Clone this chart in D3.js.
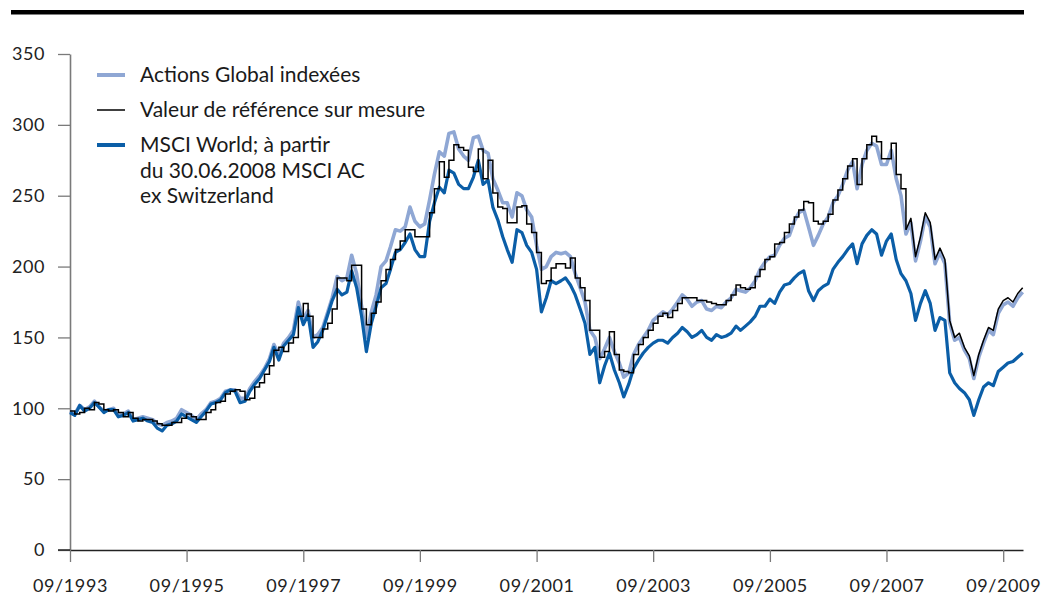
<!DOCTYPE html>
<html><head><meta charset="utf-8">
<script src="https://cdn.jsdelivr.net/npm/d3@7"></script>
<style>
body{margin:0;background:#fff}
svg{display:block}
text{font-family:Lato,"Open Sans",sans-serif}
</style>
</head><body>
<svg id="chart" width="1042" height="595"></svg>
<script>
// Monthly observations, first value = September 1993 (index 100 basis)
const startMonth = "1993-09";
// the benchmark is shown as monthly steps until this month, then continuously
const stepUntil = "2008-01";

const actionsGlobal = [
 98,96,102,99,101,105,101,98,99,100,
 95,96,98,92,93,94,93,92,89,88,
 90,91,93,99,97,95,92,96,99,104,
 105,107,112,113,113,107,107,114,119,123,
 128,135,145,138,146,150,155,175,163,169,
 150,152,157,168,178,193,190,192,208,195,
 172,150,168,180,200,204,214,226,225,228,
 242,232,228,230,247,265,281,278,294,295,
 283,278,275,291,292,282,280,262,254,245,
 245,235,252,250,240,235,215,198,200,207,
 210,209,210,207,195,185,175,155,150,135,
 142,150,140,132,122,125,138,145,150,155,
 162,165,168,166,170,175,180,177,172,175,
 176,170,169,172,171,175,178,184,183,182,
 185,190,198,203,207,208,215,220,222,232,
 238,240,228,215,222,230,235,245,250,258,
 268,274,255,272,282,287,285,272,272,282,
 262,250,223,231,204,218,235,228,202,210,
 202,160,148,150,141,135,121,136,146,155,
 152,167,173,175,172,178,182
];

const benchmark = [
 98,96,97,100,99,104,103,99,98,99,
 97,94,97,93,91,92,92,91,89,88,
 88,90,90,93,96,94,92,92,97,99,
 104,105,110,112,113,112,106,107,115,118,
 124,130,141,143,140,146,150,165,174,165,
 150,150,156,160,170,192,192,190,201,201,
 170,159,167,175,190,198,205,212,218,226,
 226,221,221,221,238,255,274,263,275,286,
 284,282,270,267,283,262,275,252,242,241,
 231,231,242,243,230,224,210,188,190,199,
 202,202,199,206,192,185,176,155,155,136,
 140,154,138,127,126,125,138,145,150,155,
 160,165,167,164,169,174,178,178,178,176,
 176,175,174,173,173,176,180,187,185,184,
 185,193,198,205,207,216,217,224,230,235,
 240,246,245,232,230,232,237,247,254,262,
 271,276,258,276,286,292,288,276,276,287,
 265,255,226,234,207,221,238,231,205,213,
 205,162,150,153,143,137,123,138,148,157,
 155,170,176,178,175,181,185
];

const msciWorld = [
 97,95,102,98,100,104,101,97,99,99,
 94,95,97,91,92,93,91,90,86,84,
 88,89,91,96,94,92,90,94,98,103,
 104,106,111,113,112,104,105,112,117,121,
 127,133,143,134,144,148,152,171,159,166,
 143,147,155,166,176,184,180,182,197,185,
 165,140,160,172,185,188,198,210,212,217,
 223,212,207,207,232,245,256,252,268,266,
 258,255,255,263,275,258,261,242,233,221,
 212,203,226,224,215,210,198,168,178,190,
 188,190,192,187,180,170,160,138,143,118,
 130,139,127,118,108,117,128,134,139,143,
 146,148,148,146,150,153,157,154,150,152,
 155,150,148,152,150,151,153,158,155,158,
 161,165,172,172,177,174,182,187,188,192,
 195,197,183,176,183,186,188,198,203,207,
 212,216,202,216,222,226,223,208,218,223,
 205,195,190,181,162,174,183,174,155,164,
 162,125,118,114,111,106,95,106,115,118,
 116,126,129,132,133,136,139
];

const yTicks = [0,50,100,150,200,250,300,350];
const xTickLabels = ["09/1993","09/1995","09/1997","09/1999","09/2001","09/2003","09/2005","09/2007","09/2009"];
const legendLabels = [
  ["Actions Global indexées"],
  ["Valeur de référence sur mesure"],
  ["MSCI World; à partir","du 30.06.2008 MSCI AC","ex Switzerland"]
];

const colLight = "#8fa7d4", colDark = "#0b5ea7", colBlack = "#000";

const svg = d3.select("#chart");
const parseMonth = d3.timeParse("%Y-%m");
const parseTick = d3.timeParse("%m/%Y");
const t0 = parseMonth(startMonth);
const dates = actionsGlobal.map((_, i) => d3.timeMonth.offset(t0, i));
const splitIdx = d3.timeMonth.count(t0, parseMonth(stepUntil));

const x = d3.scaleTime()
  .domain([t0, d3.timeDay.offset(parseMonth("2010-01"), 2)])
  .range([70, 1023]);
const y = d3.scaleLinear().domain([0, 350]).range([550, 54]);

// top rule
svg.append("rect").attr("x", 11).attr("y", 10).attr("width", 1013).attr("height", 4.5).attr("fill", "#000");

// y axis
const yAxis = svg.append("g").attr("transform", `translate(${x.range()[0]},0)`)
  .call(d3.axisLeft(y).tickValues(yTicks).tickSize(12).tickSizeOuter(0).tickPadding(13));
yAxis.select(".domain").attr("stroke", "#7a7a7a").attr("stroke-width", 1.6);
yAxis.selectAll(".tick line").attr("stroke", "#7a7a7a").attr("stroke-width", 1.3);
yAxis.selectAll(".tick text").attr("fill", "#222").style("font-size", "18px").style("letter-spacing", "0.6px");

// x axis
const xAxis = svg.append("g").attr("transform", `translate(0,${y(0)})`)
  .call(d3.axisBottom(x).tickValues(xTickLabels.map(parseTick)).tickFormat(d3.timeFormat("%m/%Y"))
    .tickSize(12).tickSizeOuter(0).tickPadding(17));
xAxis.select(".domain").attr("stroke", "#222").attr("stroke-width", 1.5);
xAxis.selectAll(".tick line").attr("stroke", "#7a7a7a").attr("stroke-width", 1.3);
xAxis.selectAll(".tick text").attr("fill", "#222").style("font-size", "18px").style("letter-spacing", "0.6px");
xAxis.append("line").attr("x1", x.range()[0] - 12).attr("x2", x.range()[0]).attr("y1", 0).attr("y2", 0)
  .attr("stroke", "#222").attr("stroke-width", 1.5);

// series
const pts = arr => arr.map((v, i) => [dates[i], v]);
const lineLin = d3.line().x(d => x(d[0])).y(d => y(d[1]));
const lineStep = d3.line().x(d => x(d[0])).y(d => y(d[1])).curve(d3.curveStepAfter);

svg.append("path").datum(pts(actionsGlobal)).attr("d", lineLin)
  .attr("fill", "none").attr("stroke", colLight).attr("stroke-width", 3.6).attr("stroke-linejoin", "round");
svg.append("path").datum(pts(msciWorld)).attr("d", lineLin)
  .attr("fill", "none").attr("stroke", colDark).attr("stroke-width", 3.2).attr("stroke-linejoin", "round");
const bPts = pts(benchmark);
svg.append("path").datum(bPts.slice(0, splitIdx + 1)).attr("d", lineStep)
  .attr("fill", "none").attr("stroke", colBlack).attr("stroke-width", 1.5);
svg.append("path").datum(bPts.slice(splitIdx)).attr("d", lineLin)
  .attr("fill", "none").attr("stroke", colBlack).attr("stroke-width", 1.5).attr("stroke-linejoin", "round");

// legend
const legendColors = [colLight, colBlack, colDark];
const legendWidths = [4, 1.5, 4];
const legendBase = [82, 117, 152];
legendLabels.forEach((lines, k) => {
  const g = svg.append("g");
  g.append("line").attr("x1", 97).attr("x2", 125).attr("y1", legendBase[k] - 7).attr("y2", legendBase[k] - 7)
    .attr("stroke", legendColors[k]).attr("stroke-width", legendWidths[k]);
  const t = g.append("text").attr("x", 140).attr("y", legendBase[k]).attr("fill", "#1a1a1a").style("font-size", "21px");
  lines.forEach((s, j) => t.append("tspan").attr("x", 140).attr("dy", j === 0 ? 0 : 25.5).text(s));
});
</script>
</body></html>
